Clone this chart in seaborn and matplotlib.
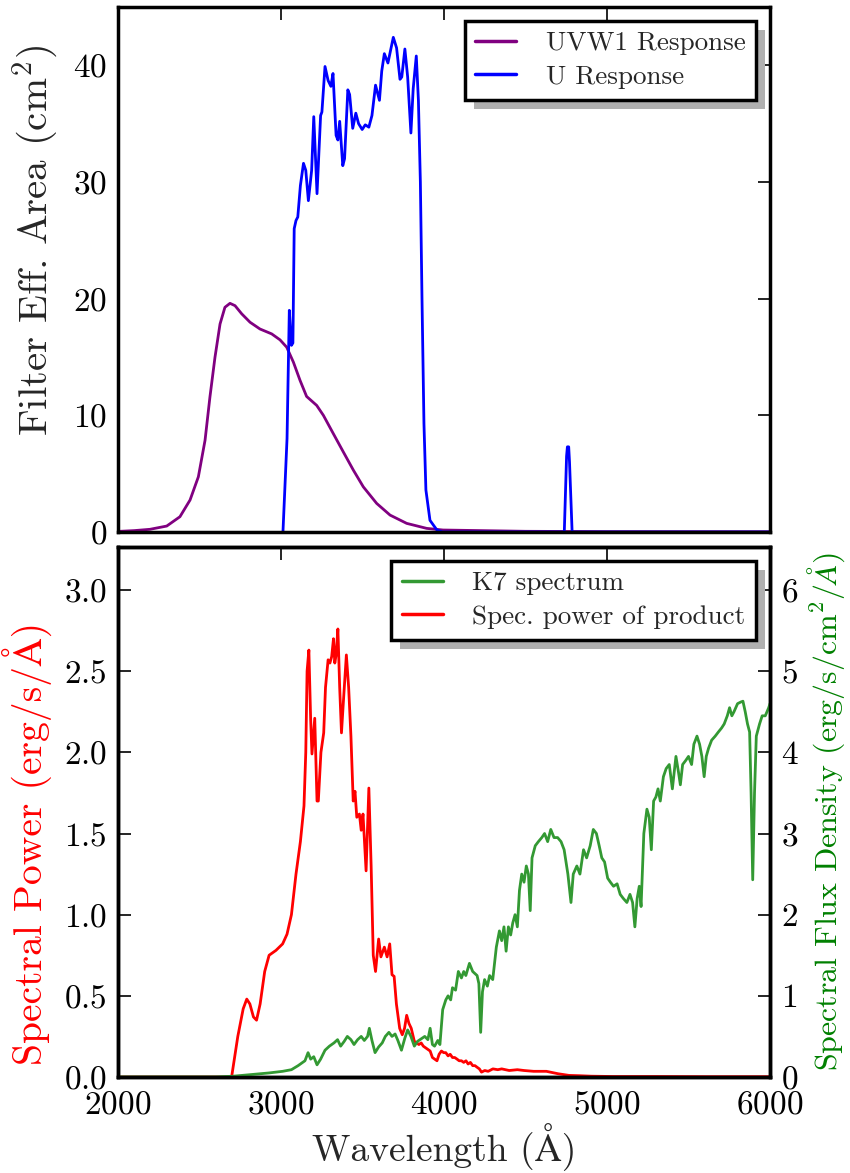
import numpy as np
import matplotlib
matplotlib.use("Agg")
import matplotlib.pyplot as plt
import matplotlib.ticker as mticker
from matplotlib.patches import Rectangle
from matplotlib.transforms import IdentityTransform
import seaborn as sns

# ---- filter effective areas (cm^2) ----
uvw1_wave = [2000, 2100, 2196, 2299, 2380, 2442, 2493, 2534, 2564, 2595, 2626, 2656,
             2687, 2718, 2759, 2810, 2871, 2943, 2994, 3035, 3076, 3117, 3157, 3219,
             3260, 3321, 3382, 3444, 3505, 3587, 3669, 3771, 3894, 3994, 4500, 5000,
             6000]
uvw1_area = [0.05, 0.12, 0.23, 0.51, 1.31, 2.74, 4.73, 7.86, 11.57, 14.98, 17.83, 19.26,
             19.6, 19.4, 18.7, 17.98, 17.4, 16.98, 16.47, 15.84, 14.56, 12.99, 11.62, 10.85,
             10.0, 8.43, 6.87, 5.3, 3.87, 2.45, 1.45, 0.74, 0.31, 0.17, 0.06, 0.03,
             0.02]

u_wave = [3012, 3037, 3051, 3064, 3073, 3081, 3092, 3103, 3119, 3138, 3152, 3168,
          3188, 3201, 3221, 3243, 3251, 3270, 3289, 3306, 3319, 3338, 3349, 3360,
          3379, 3390, 3410, 3421, 3440, 3459, 3476, 3498, 3517, 3539, 3558, 3580,
          3604, 3618, 3634, 3656, 3689, 3709, 3730, 3741, 3760, 3777, 3797, 3811,
          3830, 3843, 3855, 3865, 3877, 3889, 3914, 3955, 3990, 4738, 4752, 4757,
          4765, 4770, 4786, 6000]
u_area = [0.0, 8.0, 19.0, 16.0, 16.2, 26.0, 26.7, 27.0, 29.7, 31.6, 31.0, 28.4,
          31.0, 35.6, 29.0, 35.7, 36.0, 39.9, 38.7, 38.2, 39.3, 34.0, 33.6, 35.2,
          31.4, 32.0, 37.9, 37.5, 34.6, 35.9, 35.0, 34.5, 34.9, 34.7, 35.7, 38.3,
          37.0, 39.5, 41.0, 40.2, 42.4, 41.5, 38.8, 39.0, 41.4, 39.0, 34.2, 38.0,
          40.8, 37.0, 30.0, 20.0, 9.3, 3.6, 1.0, 0.2, 0.0, 0.0, 6.5, 7.3,
          7.3, 6.0, 0.0, 0.0]

# ---- spectral power of the product (erg/s/A) ----
pow_wave = [2000, 2697, 2735, 2768, 2790, 2809, 2831, 2850, 2872, 2900, 2927, 2969,
            3010, 3037, 3064, 3092, 3119, 3141, 3152, 3160, 3171, 3182, 3190, 3207,
            3221, 3229, 3245, 3262, 3273, 3289, 3300, 3311, 3322, 3330, 3338, 3349,
            3360, 3371, 3382, 3401, 3415, 3429, 3443, 3454, 3465, 3481, 3492, 3503,
            3522, 3539, 3553, 3566, 3580, 3599, 3613, 3634, 3651, 3667, 3681, 3694,
            3708, 3728, 3744, 3758, 3771, 3785, 3799, 3818, 3832, 3846, 3860, 3873,
            3887, 3901, 3915, 3929, 3943, 3957, 3970, 3984, 3998, 4011, 4025, 4038,
            4052, 4066, 4080, 4093, 4107, 4121, 4135, 4148, 4162, 4176, 4190, 4203,
            4217, 4230, 4250, 4271, 4300, 4330, 4354, 4400, 4450, 4491, 4550, 4628,
            4700, 4766, 4830, 4903, 5040, 5300, 5600, 6000]
pow_val = [0.0, 0.0, 0.25, 0.42, 0.48, 0.45, 0.37, 0.35, 0.45, 0.65, 0.75, 0.78,
           0.82, 0.88, 1.0, 1.25, 1.45, 1.67, 2.0, 2.5, 2.63, 2.2, 1.99, 2.21,
           1.7, 1.7, 2.0, 2.12, 2.4, 2.57, 2.55, 2.59, 2.7, 2.55, 2.6, 2.76,
           2.4, 2.12, 2.3, 2.6, 2.4, 2.1, 1.7, 1.76, 1.6, 1.62, 1.52, 1.62,
           1.27, 1.78, 1.3, 0.75, 0.65, 0.85, 0.74, 0.8, 0.74, 0.82, 0.63, 0.62,
           0.45, 0.3, 0.26, 0.3, 0.38, 0.33, 0.3, 0.22, 0.21, 0.2, 0.21, 0.19,
           0.18, 0.17, 0.16, 0.12, 0.11, 0.1, 0.14, 0.16, 0.15, 0.15, 0.13, 0.14,
           0.12, 0.12, 0.11, 0.1, 0.1, 0.09, 0.1, 0.08, 0.09, 0.07, 0.07, 0.06,
           0.05, 0.03, 0.04, 0.035, 0.05, 0.045, 0.05, 0.04, 0.045, 0.04, 0.035, 0.035,
           0.02, 0.01, 0.008, 0.005, 0.003, 0.003, 0.002, 0.002]

# ---- K7 template spectrum (erg/s/cm^2/A) ----
k7_wave = [2000, 2600, 2708, 2818, 2927, 3010, 3064, 3105, 3147, 3166, 3182, 3201,
           3221, 3243, 3270, 3297, 3325, 3347, 3366, 3388, 3407, 3429, 3448, 3470,
           3492, 3511, 3531, 3542, 3558, 3577, 3599, 3621, 3640, 3662, 3681, 3700,
           3717, 3739, 3760, 3777, 3797, 3818, 3838, 3860, 3882, 3901, 3915, 3929,
           3942, 3962, 3975, 3992, 4011, 4025, 4041, 4052, 4071, 4088, 4107, 4121,
           4134, 4156, 4176, 4203, 4214, 4225, 4236, 4249, 4266, 4280, 4299, 4321,
           4340, 4354, 4368, 4381, 4395, 4409, 4422, 4436, 4450, 4463, 4477, 4491,
           4505, 4518, 4529, 4540, 4560, 4579, 4600, 4617, 4636, 4655, 4675, 4697,
           4718, 4737, 4760, 4779, 4793, 4815, 4834, 4856, 4875, 4897, 4916, 4935,
           4952, 4968, 4985, 5004, 5021, 5040, 5062, 5081, 5100, 5122, 5141, 5157,
           5171, 5185, 5198, 5209, 5226, 5245, 5259, 5272, 5286, 5300, 5313, 5327,
           5346, 5363, 5382, 5401, 5423, 5439, 5450, 5464, 5483, 5500, 5519, 5533,
           5552, 5568, 5582, 5596, 5609, 5623, 5642, 5664, 5683, 5703, 5719, 5738,
           5752, 5766, 5779, 5801, 5821, 5834, 5848, 5862, 5875, 5884, 5894, 5905,
           5916, 5936, 5952, 5971, 5992, 6000]
k7_flux = [0.0, 0.0, 0.01, 0.03, 0.05, 0.07, 0.09, 0.14, 0.2, 0.3, 0.22, 0.25,
           0.15, 0.22, 0.33, 0.38, 0.42, 0.46, 0.38, 0.44, 0.5, 0.46, 0.4, 0.46,
           0.5, 0.45, 0.5, 0.6, 0.45, 0.3, 0.37, 0.42, 0.5, 0.55, 0.5, 0.53,
           0.45, 0.33, 0.48, 0.58, 0.5, 0.38, 0.44, 0.47, 0.5, 0.46, 0.6, 0.4,
           0.38, 0.45, 0.4, 0.83, 0.95, 1.0, 0.95, 1.1, 1.07, 1.3, 1.22, 1.3,
           1.25, 1.4, 1.3, 1.25, 1.15, 0.55, 1.05, 1.2, 1.12, 1.25, 1.2, 1.6,
           1.8, 1.68, 1.85, 1.55, 1.85, 1.75, 1.9, 2.0, 1.85, 2.3, 2.5, 2.4,
           2.6, 2.5, 2.05, 2.7, 2.85, 2.9, 2.95, 3.0, 2.9, 3.05, 2.95, 2.95,
           2.9, 2.8, 2.5, 2.15, 2.5, 2.6, 2.5, 2.8, 2.7, 2.85, 3.05, 3.0,
           2.85, 2.7, 2.65, 2.45, 2.4, 2.35, 2.38, 2.25, 2.2, 2.15, 2.25, 2.15,
           1.85, 2.2, 2.35, 2.1, 3.0, 3.3, 3.2, 2.8, 3.4, 3.45, 3.55, 3.4,
           3.7, 3.8, 3.85, 3.55, 3.95, 3.75, 3.6, 3.85, 3.9, 3.95, 3.85, 4.1,
           4.2, 4.1, 3.95, 3.7, 3.95, 4.05, 4.15, 4.2, 4.25, 4.3, 4.35, 4.45,
           4.55, 4.45, 4.5, 4.6, 4.62, 4.63, 4.5, 4.35, 4.25, 3.5, 2.43, 3.5,
           4.2, 4.35, 4.45, 4.45, 4.55, 4.6]

x_ticks = [2000, 3000, 4000, 5000, 6000]

sns.set_style("white")
FAMILY = ["cmr10", "STIXGeneral", "DejaVu Serif"]
plt.rcParams["font.family"] = FAMILY
plt.rcParams["mathtext.fontset"] = "cm"
plt.rcParams["axes.formatter.use_mathtext"] = True
plt.rcParams["axes.unicode_minus"] = False

W, H = 850, 1173
fig = plt.figure(figsize=(W / 100, H / 100), dpi=100)
fig.patch.set_facecolor("white")

ax_top = fig.add_axes([118 / W, 1 - 532 / H, 652 / W, 525 / H])
ax_bot = fig.add_axes([118 / W, 1 - 1077 / H, 652 / W, 530 / H])
ax_rt = ax_bot.twinx()

LW = 2.0
sns.lineplot(x=uvw1_wave, y=uvw1_area, ax=ax_top, color="#800080", lw=LW,
             label="UVW1 Response", sort=False, estimator=None, legend=False)
sns.lineplot(x=u_wave, y=u_area, ax=ax_top, color="#0000ff", lw=LW,
             label="U Response", sort=False, estimator=None, legend=False)
sns.lineplot(x=pow_wave, y=pow_val, ax=ax_bot, color="#ff0000", lw=LW,
             label="Spec. power of product", sort=False, estimator=None, legend=False)
sns.lineplot(x=k7_wave, y=k7_flux, ax=ax_rt, color="#339933", lw=LW,
             label="K7 spectrum", sort=False, estimator=None, legend=False)

for a in (ax_top, ax_bot, ax_rt):
    a.set_xlim(2000, 6000)
    for s in a.spines.values():
        s.set_linewidth(2.5)
        s.set_color("black")
    a.tick_params(direction="in", length=9, width=1.2, labelsize=24,
                  colors="black")
    a.tick_params(axis="x", pad=10)
    a.tick_params(axis="y", pad=8)

ax_top.set_ylim(0, 45)
ax_top.set_yticks([0, 10, 20, 30, 40])
ax_top.set_xticks(x_ticks)
ax_top.tick_params(top=True, right=True, labelbottom=False)
ax_top.set_xlabel("")
ax_top.set_ylabel("Filter Eff. Area (cm$^2$)", fontsize=29.5)
ax_top.yaxis.set_label_coords(-0.088, 0.556)

ax_bot.set_ylim(0, 3.265)
ax_bot.set_yticks([0.0, 0.5, 1.0, 1.5, 2.0, 2.5, 3.0])
ax_bot.yaxis.set_major_formatter(mticker.FormatStrFormatter(r"$%.1f$"))
ax_bot.set_xticks(x_ticks)
ax_bot.tick_params(axis="x", top=True)
ax_bot.tick_params(axis="y", left=True, right=False)
ax_rt.set_ylim(0, 6.53)
ax_rt.set_yticks([0, 1, 2, 3, 4, 5, 6])
ax_rt.tick_params(axis="y", right=True, left=False)
ax_bot.set_xlabel("Wavelength (Å)", fontsize=27, labelpad=2)
ax_bot.set_ylabel("Spectral Power (erg/s/Å)", fontsize=28.5, color="#ff0000")
ax_bot.yaxis.set_label_coords(-0.1, 0.44)
ax_rt.set_ylabel(r"Spectral Flux Density (erg/s/cm$^2$/$\AA$)",
                 fontsize=23, color="green", labelpad=5)

leg_kw = dict(loc="upper right", frameon=True, fancybox=False, framealpha=1,
              edgecolor="black", fontsize=19.5, borderaxespad=0.5, borderpad=0.4,
              handlelength=1.5, handletextpad=1.1, labelspacing=0.35)
h1, l1 = ax_top.get_legend_handles_labels()
leg_top = ax_top.legend(h1, l1, **leg_kw)
h_r, l_r = ax_rt.get_legend_handles_labels()
h_b, l_b = ax_bot.get_legend_handles_labels()
leg_bot = ax_rt.legend(h_r + h_b, l_r + l_b, **leg_kw)
for lg in (leg_top, leg_bot):
    lg.get_frame().set_linewidth(2.5)
    for ln in lg.get_lines():
        ln.set_linewidth(2.5)

# offset grey shadow behind each legend box
fig.canvas.draw()
renderer = fig.canvas.get_renderer()
for a, lg in ((ax_top, leg_top), (ax_rt, leg_bot)):
    bb = lg.get_frame().get_window_extent(renderer)
    sh = Rectangle((bb.x0 + 9, bb.y0 - 9), bb.width, bb.height,
                   transform=IdentityTransform(), facecolor="#b0b0b0",
                   edgecolor="none", zorder=4.5, clip_on=False)
    a.add_patch(sh)

fig.savefig("out.png", dpi=100, facecolor="white")
